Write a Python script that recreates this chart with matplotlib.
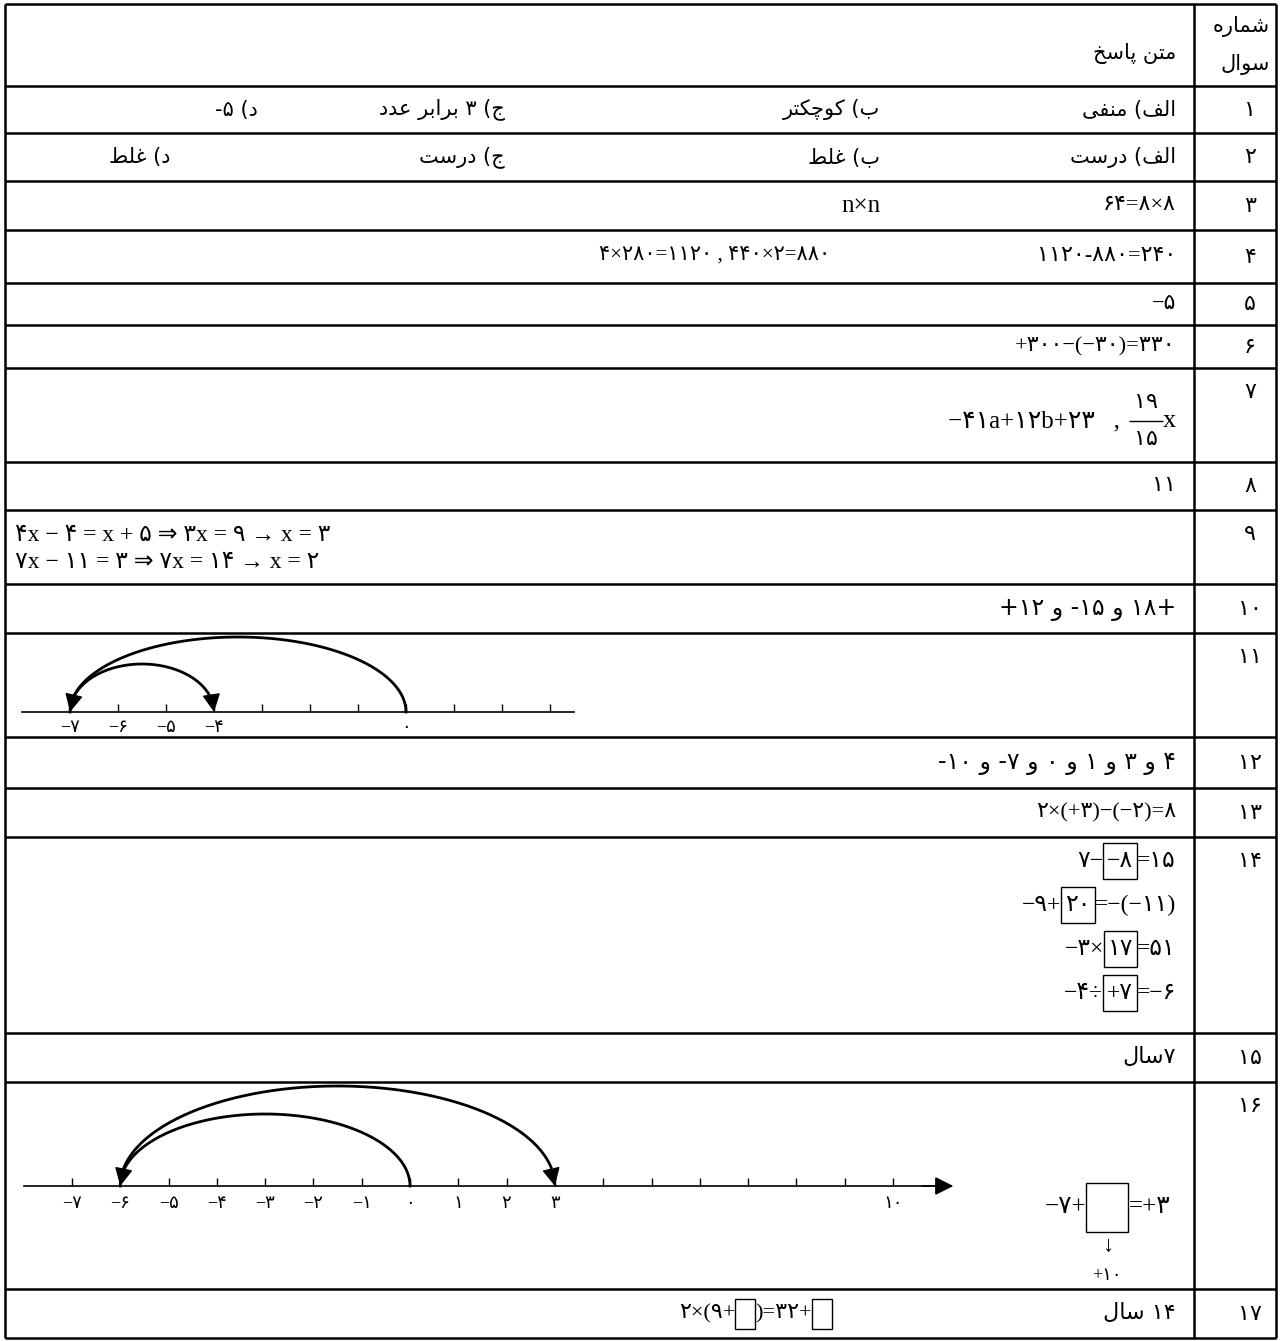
import re
import matplotlib
matplotlib.use('Agg')
import matplotlib.pyplot as plt
from matplotlib.patches import Rectangle
import numpy as np

# ---------------- content ----------------
header_answer = 'متن پاسخ'
header_num = ['شماره', 'سوال']
row_labels = ['۱', '۲', '۳', '۴', '۵', '۶', '۷', '۸', '۹', '۱۰',
              '۱۱', '۱۲', '۱۳', '۱۴', '۱۵', '۱۶', '۱۷']

q1_choices = ['الف) منفی', 'ب) کوچکتر', 'ج) ۳ برابر عدد', 'د) ۵-']
q2_choices = ['الف) درست', 'ب) غلط', 'ج) درست', 'د) غلط']
q3_parts = ['۶۴=۸×۸', 'n×n']
q4_parts = ['۱۱۲۰-۸۸۰=۲۴۰', '۴×۲۸۰=۱۱۲۰ , ۴۴۰×۲=۸۸۰']
q5 = '−۵'
q6 = '+۳۰۰−(−۳۰)=۳۳۰'
q7_expr = '−۴۱a+۱۲b+۲۳   ,'
q7_frac = ['۱۹', '۱۵']
q7_var = 'x'
q8 = '۱۱'
q9_lines = ['۴x − ۴ = x + ۵ ⇒ ۳x = ۹ → x = ۳', '۷x − ۱۱ = ۳ ⇒ ۷x = ۱۴ → x = ۲']
q10 = '+۱۸ و ۱۵- و ۱۲+'
q11_ticks = [-7, -6, -5, -4, -3, -2, -1, 0, 1, 2, 3]
q11_labels = {-7: '−۷', -6: '−۶', -5: '−۵', -4: '−۴', 0: '۰'}
q11_jumps = [(0, -7), (-7, -4)]
q12 = '۴ و ۳ و ۱ و ۰ و ۷- و ۱۰-'
q13 = '۲×(+۳)−(−۲)=۸'
q14_lines = [['۷−', '−۸', '=۱۵'],
             ['−۹+', '۲۰', '=−(−۱۱)'],
             ['−۳×', '۱۷', '=۵۱'],
             ['−۴÷', '+۷', '=−۶']]
q15 = '۷سال'
q16_ticks = [-7, -6, -5, -4, -3, -2, -1, 0, 1, 2, 3, 4, 5, 6, 7, 8, 9, 10]
q16_labels = {-7: '−۷', -6: '−۶', -5: '−۵', -4: '−۴', -3: '−۳', -2: '−۲',
              -1: '−۱', 0: '۰', 1: '۱', 2: '۲', 3: '۳', 10: '۱۰'}
q16_jumps = [(0, -6), (-6, 3)]
q16_eq = ['−۷+', '=+۳']
q16_fill = '+۱۰'
q17_age = '۱۴ سال'
q17_eq = ['۲×(۹+', ')=۳۲+']

# ---------------- simple persian shaping ----------------
FORMS = {
    'ا': ('\uFE8D', '\uFE8E', None, None),
    'د': ('\uFEA9', '\uFEAA', None, None),
    'ر': ('\uFEAD', '\uFEAE', None, None),
    'و': ('\uFEED', '\uFEEE', None, None),
    'ب': ('\uFE8F', '\uFE90', '\uFE91', '\uFE92'),
    'پ': ('\uFB56', '\uFB57', '\uFB58', '\uFB59'),
    'ت': ('\uFE95', '\uFE96', '\uFE97', '\uFE98'),
    'ج': ('\uFE9D', '\uFE9E', '\uFE9F', '\uFEA0'),
    'چ': ('\uFB7A', '\uFB7B', '\uFB7C', '\uFB7D'),
    'خ': ('\uFEA5', '\uFEA6', '\uFEA7', '\uFEA8'),
    'س': ('\uFEB1', '\uFEB2', '\uFEB3', '\uFEB4'),
    'ش': ('\uFEB5', '\uFEB6', '\uFEB7', '\uFEB8'),
    'ط': ('\uFEC1', '\uFEC2', '\uFEC3', '\uFEC4'),
    'ع': ('\uFEC9', '\uFECA', '\uFECB', '\uFECC'),
    'غ': ('\uFECD', '\uFECE', '\uFECF', '\uFED0'),
    'ف': ('\uFED1', '\uFED2', '\uFED3', '\uFED4'),
    'ک': ('\uFB8E', '\uFB8F', '\uFB90', '\uFB91'),
    'ل': ('\uFEDD', '\uFEDE', '\uFEDF', '\uFEE0'),
    'م': ('\uFEE1', '\uFEE2', '\uFEE3', '\uFEE4'),
    'ن': ('\uFEE5', '\uFEE6', '\uFEE7', '\uFEE8'),
    'ه': ('\uFEE9', '\uFEEA', '\uFEEB', '\uFEEC'),
    'ی': ('\uFBFC', '\uFBFD', '\uFBFE', '\uFBFF'),
}
MIRROR = {'(': ')', ')': '('}


def shape(s):
    out = []
    for i, c in enumerate(s):
        if c not in FORMS:
            out.append(c)
            continue
        prev = s[i - 1] if i > 0 else ''
        nxt = s[i + 1] if i + 1 < len(s) else ''
        jp = prev in FORMS and FORMS[prev][2] is not None
        jn = nxt in FORMS and FORMS[c][2] is not None
        iso, fin, ini, med = FORMS[c]
        out.append(med if jp and jn else fin if jp else ini if jn else iso)
    return ''.join(out)


def fa(s):
    # logical rtl text -> visual order
    toks = re.findall(r'[0-9۰-۹]+|.', shape(s))
    return ''.join(MIRROR.get(t, t) for t in reversed(toks))


# ---------------- figure ----------------
W, H, DPI = 1280, 1341, 100
FA = ['DejaVu Sans']
MATH = ['Liberation Serif', 'DejaVu Sans']
FS = 15

fig = plt.figure(figsize=(W / DPI, H / DPI), dpi=DPI)
fig.patch.set_facecolor('white')
ax = fig.add_axes([0, 0, 1, 1])
ax.set_xlim(0, W)
ax.set_ylim(H, 0)
ax.axis('off')
renderer = fig.canvas.get_renderer()

# table grid
x_left, x_sep, x_right = 5, 1194, 1276
row_edges = [4, 86, 133, 181, 230, 283, 325, 368, 462, 510, 584, 633,
             737, 788, 837, 1033, 1082, 1289, 1338]
ax.hlines(row_edges, x_left, x_right, color='k', lw=1.8)
ax.vlines([x_left, x_sep, x_right], row_edges[0], row_edges[-1], color='k', lw=1.8)

tall_rows = {7, 9, 11, 14, 16}
tx = 1176  # right edge of answer text

# header
ax.text(1270, 26, fa(header_num[0]), ha='right', va='center', fontsize=FS, family=FA)
ax.text(1270, 64, fa(header_num[1]), ha='right', va='center', fontsize=FS, family=FA)
ax.text(tx, 53, fa(header_answer), ha='right', va='center', fontsize=FS, family=FA)

# row numbers
for i, lab in enumerate(row_labels):
    top, bot = row_edges[i + 1], row_edges[i + 2]
    y = top + 24 if (i + 1) in tall_rows else (top + bot) / 2
    ax.text(1250, y, lab, ha='center', va='center', fontsize=16, family=FA)


def cy(r):
    return (row_edges[r] + row_edges[r + 1]) / 2


def put(x, y, s, ha='right', fam=FA, fs=FS):
    return ax.text(x, y, s, ha=ha, va='center', fontsize=fs, family=fam)


def put_pieces(x_r, y, pieces, fs=FS, pad=4, box_h=36):
    # pieces left->right: ('t', str) plain, ('b', str) boxed, ('e', (w, h)) empty box
    x = x_r
    spans = []
    for kind, val in reversed(pieces):
        if kind == 't':
            t = put(x, y, val, fam=MATH, fs=fs)
            w = t.get_window_extent(renderer).width
        elif kind == 'b':
            t = put(x - pad, y, val, fam=MATH, fs=fs)
            w = t.get_window_extent(renderer).width + 2 * pad
            ax.add_patch(Rectangle((x - w, y - box_h / 2), w, box_h, fill=False, ec='k', lw=1.0))
        else:
            w, h = val
            ax.add_patch(Rectangle((x - w, y - h / 2), w, h, fill=False, ec='k', lw=1.0))
        spans.append((x - w, x))
        x -= w
    return spans[::-1]


# row 1 and 2
for xr, s in zip([tx, 880, 505, 258], q1_choices):
    put(xr, cy(1), fa(s))
for xr, s in zip([tx, 880, 505, 170], q2_choices):
    put(xr, cy(2), fa(s))
# row 3, 4
put(tx, cy(3), q3_parts[0], fam=MATH, fs=16)
put(880, cy(3), q3_parts[1], fam=MATH, fs=18)
put(tx, cy(4), q4_parts[0], fam=MATH, fs=16)
put(830, cy(4), q4_parts[1], fam=MATH)
# row 5, 6
put(tx, cy(5), q5, fam=MATH, fs=16)
put(tx, cy(6), q6, fam=MATH, fs=16)
# row 7 with fraction
y7 = 421
put(tx, y7, q7_var, fam=MATH, fs=19)
fx = 1146
put(fx, y7 - 18, q7_frac[0], ha='center', fam=MATH, fs=16)
put(fx, y7 + 19, q7_frac[1], ha='center', fam=MATH, fs=16)
ax.hlines(y7, fx - 17, fx + 17, color='k', lw=1.0)
put(1120, y7, q7_expr, fam=MATH, fs=18)
# row 8
put(tx, cy(8), q8, fam=MATH, fs=16)
# row 9
for yy, s in zip([535, 562], q9_lines):
    put(15, yy, s, ha='left', fam=MATH, fs=17)
# row 10
put(tx, cy(10), fa(q10), fs=17)
# row 12, 13
put(tx, cy(12), fa(q12), fs=17)
put(tx, cy(13), q13, fam=MATH, fs=16)
# row 14 boxed answers
for yy, (a, b, c) in zip([861, 905, 949, 993], q14_lines):
    put_pieces(tx, yy, [('t', a), ('b', b), ('t', c)], fs=17)
# row 15
put(tx, cy(15), fa(q15), fs=16)
# row 16 equation
sp = put_pieces(1170, 1207, [('t', q16_eq[0]), ('e', (42, 49)), ('t', q16_eq[1])], fs=18)
bx = (sp[1][0] + sp[1][1]) / 2
put(bx, 1246, '↓', ha='center', fam=MATH, fs=16)
put(bx, 1275, q16_fill, ha='center', fam=MATH, fs=13)
# row 17
put(tx, cy(17), fa(q17_age), fs=16)
put_pieces(832, cy(17), [('t', q17_eq[0]), ('e', (20, 30)), ('t', q17_eq[1]), ('e', (20, 30))], fs=16)


# ---------------- number lines ----------------
def number_line(box, zero_px, unit_px, axis_y, ticks, labels, jumps, peaks,
                label_y, v_start, v_end, end_arrow=False, tick_h=8):
    x0, x1, y0, y1 = box
    nax = fig.add_axes([x0 / W, 1 - y1 / H, (x1 - x0) / W, (y1 - y0) / H])
    nax.set_xlim((x0 - zero_px) / unit_px, (x1 - zero_px) / unit_px)
    nax.set_ylim(y1, y0)
    nax.axis('off')
    nax.plot([v_start, v_end], [axis_y, axis_y], color='k', lw=1.2)
    nax.vlines(ticks, axis_y - tick_h, axis_y, color='k', lw=1.0)
    for v, lab in labels.items():
        nax.text(v, label_y, lab, ha='center', va='center', fontsize=13, family=MATH)
    if end_arrow:
        nax.annotate('', xy=(v_end + 0.35, axis_y), xytext=(v_end - 0.3, axis_y),
                     arrowprops=dict(arrowstyle='-|>', color='k', lw=1.2,
                                     mutation_scale=28, shrinkA=0, shrinkB=0))
    t = np.linspace(0, np.pi, 200)
    for (a, b), pk in zip(jumps, peaks):
        c, r = (a + b) / 2, (b - a) / 2
        vv = c - r * np.cos(t)
        yy = axis_y - (axis_y - pk) * np.sin(t)
        nax.plot(vv[:-12], yy[:-12], color='k', lw=2.0)
        nax.annotate('', xy=(vv[-1], yy[-1]), xytext=(vv[-14], yy[-14]),
                     arrowprops=dict(arrowstyle='-|>', color='k', lw=1.0,
                                     mutation_scale=28, shrinkA=0, shrinkB=0))
    return nax


number_line((10, 590, 634, 736), 406, 48.0, 712, q11_ticks, q11_labels,
            q11_jumps, [637, 664], 727, -8.0, 3.5)
number_line((15, 960, 1083, 1288), 410, 48.3, 1186, q16_ticks, q16_labels,
            q16_jumps, [1114, 1086], 1204, -8.0, 10.9, end_arrow=True)

fig.savefig('out.png', dpi=DPI, facecolor='white')
